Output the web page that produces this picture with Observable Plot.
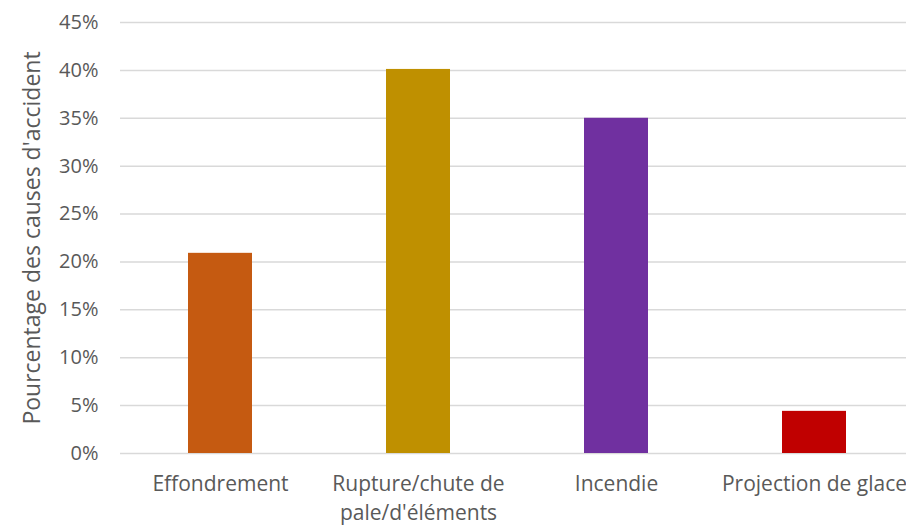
<!DOCTYPE html>
<html><head><meta charset="utf-8">
<script src="https://cdn.jsdelivr.net/npm/d3@7"></script>
<script src="https://cdn.jsdelivr.net/npm/@observablehq/plot@0.6"></script>
<style>body{margin:0;background:#fff;overflow:hidden;} #chart svg{display:block;}</style>
</head><body><div id="chart"></div>
<script>
const categories = ["Effondrement", "Rupture/chute de pale/d'éléments", "Incendie", "Projection de glace"];
const tickLabels = ["Effondrement", "Rupture/chute de\npale/d'éléments", "Incendie", "Projection de glace"];
const values = [0.209, 0.401, 0.350, 0.044];
const colors = ["#C55A11", "#BF9000", "#7030A0", "#C00000"];
const yTicks = [0, 0.05, 0.10, 0.15, 0.20, 0.25, 0.30, 0.35, 0.40, 0.45];
const yTickLabels = ["0%", "5%", "10%", "15%", "20%", "25%", "30%", "35%", "40%", "45%"];
const yTitle = "Pourcentage des causes d'accident";

const data = categories.map((c, i) => ({cat: c, value: values[i], color: colors[i]}));
const font = "'Open Sans', sans-serif";

const chart = Plot.plot({
  width: 906,
  height: 530,
  marginTop: 22,
  marginBottom: 77,
  marginLeft: 120,
  marginRight: 0,
  style: {fontFamily: font, color: "#595959", background: "#fff", overflow: "visible"},
  x: {domain: categories, range: [120, 913], paddingInner: 0.677, paddingOuter: 0.3385},
  y: {domain: [0, 0.45]},
  marks: [
    Plot.ruleY(yTicks, {stroke: "#d9d9d9", strokeWidth: 1.5}),
    Plot.barY(data, {x: "cat", y: "value", fill: "color"}),
    Plot.axisY({
      ticks: yTicks,
      tickSize: 0,
      tickPadding: 22,
      fontSize: 20,
      tickFormat: (d) => yTickLabels[yTicks.indexOf(d)],
      label: null
    }),
    Plot.text([yTitle], {
      frameAnchor: "left",
      dx: -97,
      rotate: -90,
      textAnchor: "middle",
      lineAnchor: "top",
      fontSize: 23,
      fill: "#595959"
    }),
    Plot.axisX({
      tickSize: 0,
      tickPadding: 18,
      fontSize: 21,
      lineHeight: 1.34,
      tickFormat: (d) => tickLabels[categories.indexOf(d)],
      label: null
    })
  ]
});
document.getElementById("chart").appendChild(chart);
</script>
</body></html>
